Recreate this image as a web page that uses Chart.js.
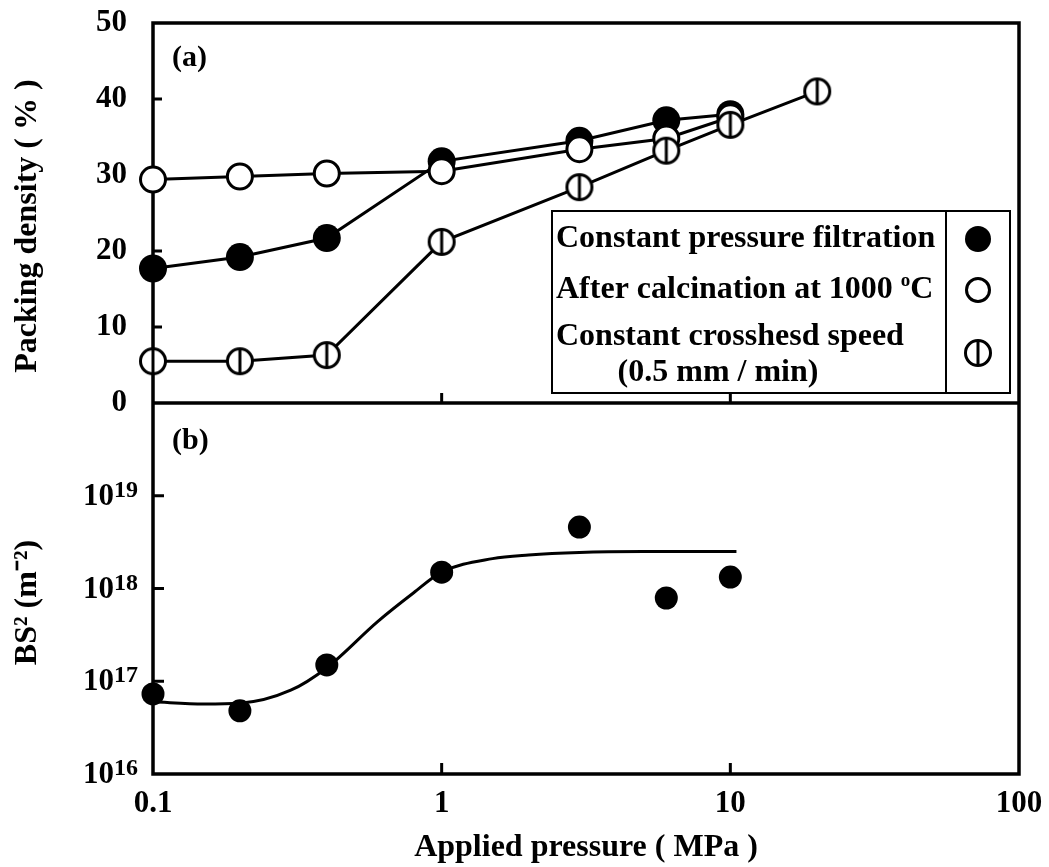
<!DOCTYPE html>
<html>
<head>
<meta charset="utf-8">
<script src="https://cdn.jsdelivr.net/npm/chart.js@4.4.1/dist/chart.umd.min.js"></script>
<style>
  html, body { margin: 0; padding: 0; background: #fff; }
</style>
</head>
<body>
<canvas id="chart_root" width="1049" height="867"></canvas>
<script>
// x values (MPa)
const pressure = [0.1, 0.2, 0.4, 1, 3, 6, 10];
const pressureSpeed = [0.1, 0.2, 0.4, 1, 3, 6, 10, 20];

// (a) packing density, %
const densityFiltration = [17.7, 19.2, 21.7, 31.8, 34.5, 37.2, 38.0];
const densityCalcined = [29.4, 29.8, 30.2, 30.5, 33.4, 34.8, 37.6];
const densitySpeed = [5.5, 5.5, 6.3, 21.2, 28.4, 33.2, 36.6, 41.0];

// (b) BS^2, m^-2
const bs2 = [7.3e16, 4.8e16, 1.5e17, 1.5e18, 4.6e18, 7.9e17, 1.33e18];
const fitX = [0.1, 0.15, 0.2, 0.3, 0.4, 0.6, 0.8, 1, 1.5, 2, 3, 5, 10.5];
const fitY = [6.0e16, 5.7e16, 5.8e16, 8.0e16, 1.4e17, 4.4e17, 9.0e17, 1.5e18, 2.1e18, 2.3e18, 2.45e18, 2.5e18, 2.5e18];

// tick labels
const xTicks = [0.1, 1, 10, 100];
const densityTicks = [0, 10, 20, 30, 40, 50];
const bs2Ticks = [1e16, 1e17, 1e18, 1e19, 1e20];

const labels = [
  'Constant pressure filtration',
  'After calcination at 1000 oC',
  'Constant crosshesd speed (0.5 mm / min)'
];

const FONT = "'Liberation Serif', 'Times New Roman', serif";
const tickFont = { family: FONT, size: 31, weight: 'bold' };

const pts = (xs, ys) => xs.map((x, i) => ({ x, y: ys[i] }));

function halfMarker(r, lw) {
  const size = Math.ceil(2 * r + lw + 2);
  const c = document.createElement('canvas');
  c.width = size;
  c.height = size;
  const g = c.getContext('2d');
  const m = size / 2;
  g.fillStyle = '#fff';
  g.strokeStyle = '#000';
  g.lineWidth = lw;
  g.beginPath();
  g.arc(m, m, r, 0, Math.PI * 2);
  g.fill();
  g.stroke();
  g.beginPath();
  g.moveTo(m, m - r);
  g.lineTo(m, m + r);
  g.stroke();
  return c;
}

const speedMarker = halfMarker(12.5, 3);

const framePlugin = {
  id: 'frame',
  beforeDatasetsDraw(chart) {
    const { ctx, chartArea: a, scales } = chart;
    const { x, yA, yB } = scales;
    const line = (x0, y0, x1, y1) => {
      ctx.beginPath();
      ctx.moveTo(x0, y0);
      ctx.lineTo(x1, y1);
      ctx.stroke();
    };
    ctx.save();
    ctx.strokeStyle = '#000';
    ctx.lineWidth = 3.5;
    ctx.strokeRect(a.left, a.top, a.right - a.left, a.bottom - a.top);
    line(a.left, yA.bottom, a.right, yA.bottom);
    ctx.lineWidth = 3;
    densityTicks.slice(1, -1).forEach((v) => {
      const py = yA.getPixelForValue(v);
      line(a.left, py, a.left + 9, py);
    });
    bs2Ticks.slice(1, -1).forEach((v) => {
      const py = yB.getPixelForValue(v);
      line(a.left, py, a.left + 11, py);
    });
    xTicks.slice(1, -1).forEach((v) => {
      const px = x.getPixelForValue(v);
      line(px, yA.bottom, px, yA.bottom - 10);
      line(px, a.bottom, px, a.bottom - 11);
    });

    // log tick labels 10^n with a raised exponent
    ctx.fillStyle = '#000';
    ctx.textAlign = 'right';
    ctx.textBaseline = 'alphabetic';
    const rx = a.left - 15;
    bs2Ticks.slice(0, -1).forEach((v) => {
      const py = yB.getPixelForValue(v);
      const e = String(Math.round(Math.log10(v)));
      ctx.font = `bold 24px ${FONT}`;
      ctx.fillText(e, rx, py + 1);
      const we = ctx.measureText(e).width;
      ctx.font = `bold 31px ${FONT}`;
      ctx.fillText('10', rx - we, py + 9);
    });

    // y axis titles
    ctx.font = `bold 32px ${FONT}`;
    ctx.textAlign = 'center';
    ctx.textBaseline = 'middle';
    const yTitle = (text, cy) => {
      ctx.save();
      ctx.translate(28, cy);
      ctx.rotate(-Math.PI / 2);
      ctx.fillText(text, 0, 0);
      ctx.restore();
    };
    yTitle('Packing density ( % )', (yA.top + yA.bottom) / 2 + 13);
    yTitle('BS² (m⁻²)', (yB.top + yB.bottom) / 2 + 14);
    ctx.restore();
  },
  afterDatasetsDraw(chart) {
    const { ctx, chartArea: a, scales } = chart;
    ctx.save();
    // panel labels
    ctx.fillStyle = '#000';
    ctx.font = `bold 30px ${FONT}`;
    ctx.textBaseline = 'middle';
    ctx.textAlign = 'left';
    ctx.fillText('(a)', a.left + 19, a.top + 35);
    ctx.fillText('(b)', a.left + 19, scales.yB.top + 38);

    // legend box
    const L = { left: 552, top: 211, right: 1010, bottom: 393, div: 946 };
    ctx.fillStyle = '#fff';
    ctx.fillRect(L.left, L.top, L.right - L.left, L.bottom - L.top);
    ctx.strokeStyle = '#000';
    ctx.lineWidth = 2;
    ctx.strokeRect(L.left, L.top, L.right - L.left, L.bottom - L.top);
    ctx.beginPath();
    ctx.moveTo(L.div, L.top);
    ctx.lineTo(L.div, L.bottom);
    ctx.stroke();

    ctx.fillStyle = '#000';
    ctx.font = `bold 32px ${FONT}`;
    const tx = L.left + 4;
    ctx.fillText(labels[0], tx, 239);
    const t2 = 'After calcination at 1000 ';
    ctx.fillText(t2, tx, 290);
    const w2 = ctx.measureText(t2).width;
    ctx.font = `bold 19px ${FONT}`;
    ctx.fillText('o', tx + w2, 281);
    const wo = ctx.measureText('o').width;
    ctx.font = `bold 32px ${FONT}`;
    ctx.fillText('C', tx + w2 + wo, 290);
    ctx.fillText('Constant crosshesd speed', tx, 337);
    ctx.textAlign = 'center';
    ctx.fillText('(0.5 mm / min)', 718, 373);

    // legend markers
    const mx = (L.div + L.right) / 2;
    ctx.beginPath();
    ctx.arc(mx, 239, 13, 0, Math.PI * 2);
    ctx.fill();
    ctx.lineWidth = 3;
    ctx.fillStyle = '#fff';
    ctx.beginPath();
    ctx.arc(mx, 290, 11.5, 0, Math.PI * 2);
    ctx.fill();
    ctx.stroke();
    ctx.drawImage(speedMarker, mx - speedMarker.width / 2, 353 - speedMarker.height / 2);
    ctx.restore();
  }
};

const noPad = (s) => {
  s.width = 153;
  s.paddingTop = 0;
  s.paddingBottom = 0;
};

const chartRootElt = document.getElementById('chart_root');

new Chart(chartRootElt, {
  type: 'line',
  data: {
    datasets: [
      {
        label: labels[0],
        data: pts(pressure, densityFiltration),
        yAxisID: 'yA',
        borderColor: '#000',
        borderWidth: 3,
        pointRadius: 14,
        pointBackgroundColor: '#000',
        pointBorderWidth: 0,
        order: 3,
        clip: false
      },
      {
        label: labels[1],
        data: pts(pressure, densityCalcined),
        yAxisID: 'yA',
        borderColor: '#000',
        borderWidth: 3,
        pointRadius: 12.5,
        pointBackgroundColor: '#fff',
        pointBorderColor: '#000',
        pointBorderWidth: 3,
        order: 2,
        clip: false
      },
      {
        label: labels[2],
        data: pts(pressureSpeed, densitySpeed),
        yAxisID: 'yA',
        borderColor: '#000',
        borderWidth: 3,
        pointStyle: speedMarker,
        pointRadius: 14,
        order: 1,
        clip: false
      },
      {
        label: 'BS2',
        data: pts(pressure, bs2),
        yAxisID: 'yB',
        showLine: false,
        pointRadius: 11.5,
        pointBackgroundColor: '#000',
        pointBorderWidth: 0,
        clip: false
      },
      {
        label: 'BS2 fit',
        data: pts(fitX, fitY),
        yAxisID: 'yB',
        borderColor: '#000',
        borderWidth: 3,
        pointRadius: 0,
        cubicInterpolationMode: 'monotone',
        clip: false
      }
    ]
  },
  options: {
    responsive: false,
    animation: false,
    layout: { padding: { top: 23, right: 30, left: 0, bottom: 0 } },
    plugins: {
      legend: { display: false },
      tooltip: { enabled: false }
    },
    scales: {
      x: {
        type: 'logarithmic',
        min: 0.1,
        max: 100,
        grid: { display: false, drawTicks: false },
        border: { display: false },
        afterBuildTicks: (s) => { s.ticks = xTicks.map((v) => ({ value: v })); },
        afterFit: (s) => {
          s.height = 93;
          s.paddingLeft = 0;
          s.paddingRight = 0;
        },
        ticks: {
          font: tickFont,
          color: '#000',
          padding: 11,
          autoSkip: false,
          maxRotation: 0,
          callback: (v) => String(v)
        },
        title: {
          display: true,
          text: 'Applied pressure ( MPa )',
          font: { family: FONT, size: 32, weight: 'bold' },
          color: '#000',
          padding: { top: 0, bottom: 0 }
        }
      },
      yB: {
        type: 'logarithmic',
        position: 'left',
        stack: 'panels',
        stackWeight: 371,
        min: 1e16,
        max: 1e20,
        grid: { display: false, drawTicks: false },
        border: { display: false },
        afterBuildTicks: (s) => { s.ticks = bs2Ticks.map((v) => ({ value: v })); },
        afterFit: noPad,
        ticks: { display: false }
      },
      yA: {
        type: 'linear',
        position: 'left',
        stack: 'panels',
        stackWeight: 380,
        min: 0,
        max: 50,
        grid: { display: false, drawTicks: false },
        border: { display: false },
        afterBuildTicks: (s) => { s.ticks = densityTicks.map((v) => ({ value: v })); },
        afterFit: noPad,
        ticks: {
          font: tickFont,
          color: '#000',
          padding: 26,
          autoSkip: false
        }
      }
    }
  },
  plugins: [framePlugin]
});
</script>
</body>
</html>
